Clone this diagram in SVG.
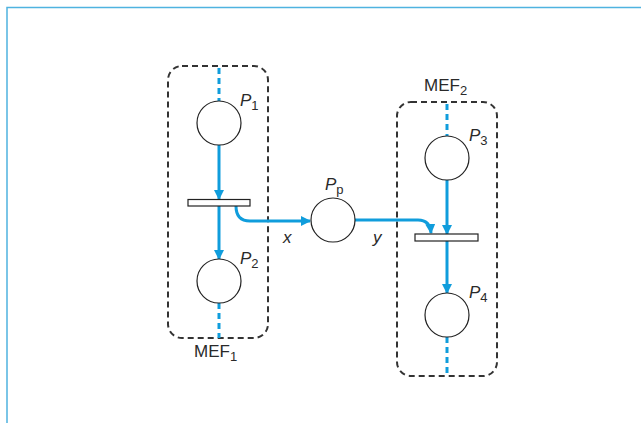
<svg xmlns="http://www.w3.org/2000/svg" width="641" height="423" viewBox="0 0 641 423">
<defs>
<style>
.frame{fill:none;stroke:#4fb3e0;stroke-width:1.5}
.box{fill:none;stroke:#333;stroke-width:2;stroke-dasharray:6,4}
.place{fill:#fff;stroke:#222;stroke-width:1.2}
.bar{fill:#fff;stroke:#222;stroke-width:1.2}
.arc{fill:none;stroke:#109ddc;stroke-width:3}
.dash{fill:none;stroke:#109ddc;stroke-width:3;stroke-dasharray:6,4}
.lbl{font-family:"Liberation Sans",Arial,sans-serif;font-size:17px;fill:#2a2a2a}
.it{font-style:italic}
.sub{font-size:13px}
</style>
<marker id="ah" markerWidth="10" markerHeight="10" refX="9" refY="5" orient="auto" markerUnits="userSpaceOnUse">
<path d="M0,0 L10,5 L0,10 Z" fill="#109ddc"/>
</marker>
</defs>
<rect width="641" height="423" fill="#fff"/>
<path class="frame" d="M7,423 V7.5 H641"/>
<g id="MEF1">
<rect class="box" x="168" y="66" width="100" height="272" rx="14"/>
<text class="lbl" x="194" y="357">MEF<tspan class="sub" dy="4">1</tspan></text>
</g>
<g id="MEF2">
<rect class="box" x="397" y="102" width="100" height="274" rx="14"/>
<text class="lbl" x="424" y="91">MEF<tspan class="sub" dy="4">2</tspan></text>
</g>
<g id="connectors">
<line class="dash" x1="219" y1="68" x2="219" y2="101"/>
<line class="arc" x1="219" y1="145" x2="219" y2="199" marker-end="url(#ah)"/>
<line class="arc" x1="219" y1="206" x2="219" y2="259" marker-end="url(#ah)"/>
<line class="dash" x1="219" y1="303" x2="219" y2="338"/>
<path class="arc" d="M236,206 Q236,221 250,221 H310" marker-end="url(#ah)"/>
<path class="arc" d="M355,220 H418 Q430,220 431,233" marker-end="url(#ah)"/>
<line class="dash" x1="447" y1="104" x2="447" y2="136"/>
<line class="arc" x1="447" y1="180" x2="447" y2="234" marker-end="url(#ah)"/>
<line class="arc" x1="447" y1="241" x2="447" y2="293" marker-end="url(#ah)"/>
<line class="dash" x1="447" y1="337" x2="447" y2="375"/>
</g>
<g id="P1">
<circle class="place" cx="219" cy="123" r="22"/>
<text class="lbl" x="240" y="106"><tspan class="it">P</tspan><tspan class="sub" dy="4">1</tspan></text>
</g>
<g id="T1">
<rect class="bar" x="188" y="199.5" width="62" height="6.5"/>
</g>
<g id="P2">
<circle class="place" cx="219" cy="281" r="22"/>
<text class="lbl" x="240" y="264"><tspan class="it">P</tspan><tspan class="sub" dy="4">2</tspan></text>
</g>
<g id="Pp">
<circle class="place" cx="333" cy="220" r="22"/>
<text class="lbl" x="325" y="190"><tspan class="it">P</tspan><tspan class="sub" dy="4">p</tspan></text>
</g>
<g id="P3">
<circle class="place" cx="447" cy="158" r="22"/>
<text class="lbl" x="469" y="141"><tspan class="it">P</tspan><tspan class="sub" dy="4">3</tspan></text>
</g>
<g id="T2">
<rect class="bar" x="415" y="234" width="63" height="7"/>
</g>
<g id="P4">
<circle class="place" cx="447" cy="315" r="22"/>
<text class="lbl" x="469" y="298"><tspan class="it">P</tspan><tspan class="sub" dy="4">4</tspan></text>
</g>
<g id="labels">
<text class="lbl it" x="283" y="243">x</text>
<text class="lbl it" x="373" y="243">y</text>
</g>
</svg>
